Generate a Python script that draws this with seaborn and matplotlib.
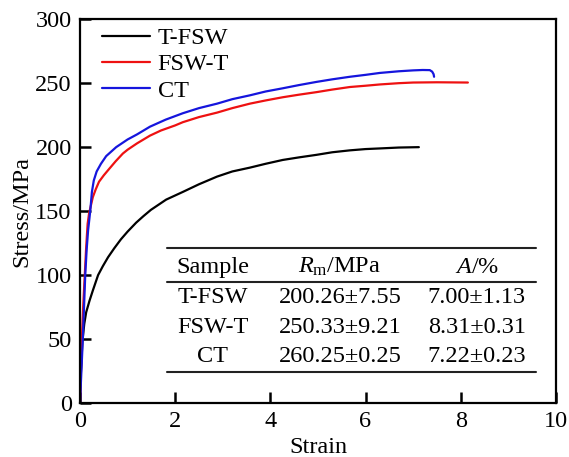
import matplotlib
matplotlib.use("Agg")
import matplotlib.pyplot as plt
import numpy as np
import pandas as pd
import seaborn as sns

# stress-strain curves
tfsw_strain = [0.0, 0.02, 0.05, 0.09, 0.13, 0.2, 0.27, 0.38, 0.48, 0.59, 0.72, 0.86, 1.0, 1.18, 1.33, 1.49, 1.65, 1.81,
               2.16, 2.5, 2.88, 3.2, 3.57, 3.9, 4.26, 4.6, 4.97, 5.3, 5.67, 6.0, 6.3, 6.7, 7.12]
tfsw_stress = [0, 25, 48, 62, 71, 80, 88, 100, 107, 114, 121, 128, 134, 141, 146, 151, 155, 159,
               165, 171, 177, 181, 184, 187, 190, 192, 194, 196, 197.5, 198.5, 199, 199.7, 200]

fswt_strain = [0.0, 0.04, 0.07, 0.1, 0.13, 0.16, 0.19, 0.22, 0.27, 0.33, 0.4, 0.5, 0.59, 0.75, 0.9, 1.0, 1.2, 1.47,
               1.7, 2.0, 2.16, 2.5, 2.88, 3.2, 3.57, 3.9, 4.26, 4.6, 4.97, 5.3, 5.67, 6.0, 6.3, 6.7, 7.0, 7.5, 8.15]
fswt_stress = [0, 51, 78, 100, 122, 140, 148, 153, 161, 167, 173, 178, 182, 189, 195, 198, 203, 209,
               213, 217, 219.5, 223.5, 227, 230.5, 234, 236.5, 239, 241, 243, 245, 247, 248, 249, 250, 250.5, 250.7, 250.5]

ct_strain = [0.0, 0.06, 0.11, 0.14, 0.17, 0.2, 0.22, 0.25, 0.29, 0.35, 0.44, 0.55, 0.76, 1.0, 1.2, 1.47, 1.8, 2.16,
             2.5, 2.88, 3.2, 3.57, 3.9, 4.26, 4.6, 4.97, 5.3, 5.67, 6.0, 6.3, 6.7, 7.0, 7.2, 7.35, 7.4, 7.43, 7.44]
ct_stress = [0, 51, 100, 120, 135, 145, 152, 165, 174, 181, 187, 193, 200, 206, 210, 216, 221.5, 226.5,
             230.5, 234, 237.5, 240.5, 243.5, 246, 248.5, 251, 253, 255, 256.5, 258, 259.3, 260, 260.3, 260.2, 259, 257, 255]

samples = ["T-FSW", "FSW-T", "CT"]
rm_text = ["200.26±7.55", "250.33±9.21", "260.25±0.25"]
a_text = ["7.00±1.13", "8.31±0.31", "7.22±0.23"]

df = pd.concat([
    pd.DataFrame({"strain": tfsw_strain, "stress": tfsw_stress, "sample": "T-FSW"}),
    pd.DataFrame({"strain": fswt_strain, "stress": fswt_stress, "sample": "FSW-T"}),
    pd.DataFrame({"strain": ct_strain, "stress": ct_stress, "sample": "CT"}),
], ignore_index=True)

sns.set_style("ticks", {"xtick.direction": "in", "ytick.direction": "in"})
plt.rcParams["font.family"] = ["Liberation Serif", "DejaVu Serif"]
plt.rcParams["mathtext.fontset"] = "custom"
plt.rcParams["mathtext.rm"] = "Liberation Serif"
plt.rcParams["mathtext.it"] = "Liberation Serif:italic"
plt.rcParams["text.color"] = "black"
plt.rcParams["axes.labelcolor"] = "black"

FS = 17.5

fig = plt.figure(figsize=(5.69, 4.57), dpi=100)
ax = fig.add_axes([0.1406, 0.118, 0.8364, 0.840])

palette = {"T-FSW": "black", "FSW-T": "#ee1111", "CT": "#1515dd"}
sns.lineplot(data=df, x="strain", y="stress", hue="sample", palette=palette,
             sort=False, estimator=None, linewidth=1.6, ax=ax)

ax.set_xlim(0, 10)
ax.set_ylim(0, 300)
ax.set_xticks([0, 2, 4, 6, 8, 10])
ax.set_yticks([0, 50, 100, 150, 200, 250, 300])
ax.tick_params(direction="in", length=8, width=1.8, labelsize=FS, pad=6,
               color="black", labelcolor="black")
for s in ax.spines.values():
    s.set_linewidth(1.6)
    s.set_color("black")
ax.set_xlabel("Strain", fontsize=FS, labelpad=3)
ax.set_ylabel("Stress/MPa", fontsize=FS, labelpad=2)

leg = ax.legend(loc="upper left", frameon=False, fontsize=FS, handlelength=2.0,
                handletextpad=0.3, labelspacing=0.18, borderaxespad=0.0,
                bbox_to_anchor=(0.025, 1.005))
for line in leg.get_lines():
    line.set_linewidth(1.6)

# summary table inside the axes
x0, x1 = 0.183, 0.958
for yy in (0.404, 0.315, 0.081):
    ax.plot([x0, x1], [yy, yy], transform=ax.transAxes, color="#222222", linewidth=1.5)
cols = [0.279, 0.546, 0.834]
ax.text(cols[0], 0.354, "Sample", transform=ax.transAxes, ha="center", va="center", fontsize=FS)
ax.text(cols[1], 0.354, r"$R_\mathrm{m}$/MPa", transform=ax.transAxes, ha="center", va="center", fontsize=FS)
ax.text(cols[2], 0.354, r"$A$/%", transform=ax.transAxes, ha="center", va="center", fontsize=FS)
for i, yy in enumerate([0.276, 0.198, 0.122]):
    ax.text(cols[0], yy, samples[i], transform=ax.transAxes, ha="center", va="center", fontsize=FS)
    ax.text(cols[1], yy, rm_text[i], transform=ax.transAxes, ha="center", va="center", fontsize=FS)
    ax.text(cols[2], yy, a_text[i], transform=ax.transAxes, ha="center", va="center", fontsize=FS)

fig.savefig("out.png", dpi=100)
